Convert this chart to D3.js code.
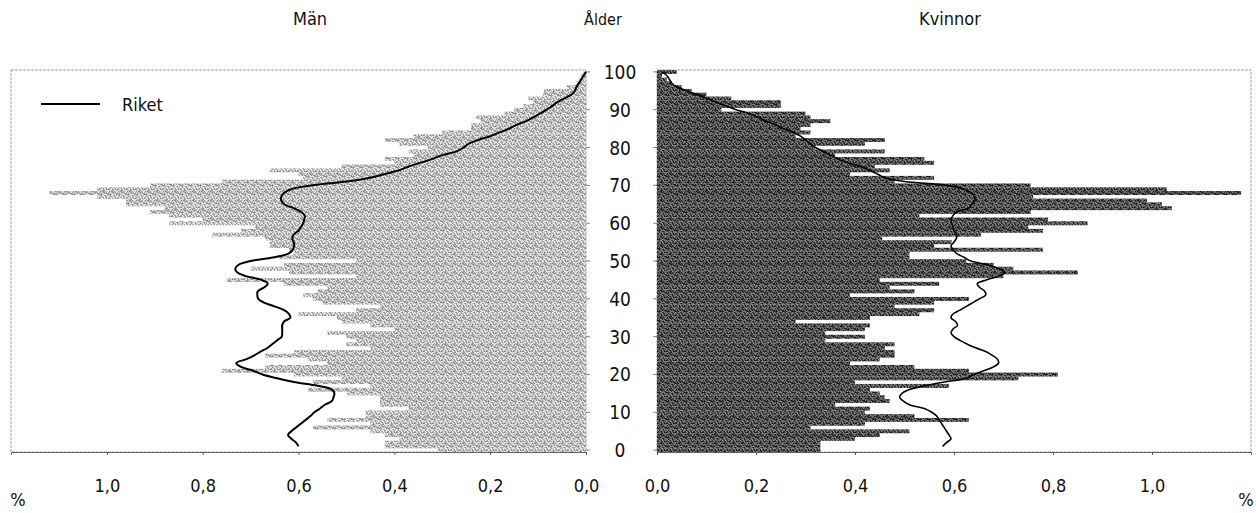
<!DOCTYPE html>
<html>
<head>
<meta charset="utf-8">
<script src="https://cdnjs.cloudflare.com/ajax/libs/d3/7.8.5/d3.min.js"></script>
<style>
  body { margin: 0; background: #fff; }
  svg text { font-family: "DejaVu Sans Condensed", "DejaVu Sans", sans-serif; font-stretch: condensed; fill: #111; }
</style>
</head>
<body>
<div id="chart"></div>
<script>
// Population pyramid: Män / Kvinnor, share in % per age, with national curve (Riket)

// ages 0..100 (one bar per age)
var ages = d3.range(0, 101);
var ageTicks = [0, 10, 20, 30, 40, 50, 60, 70, 80, 90, 100];
var valueTicks = [0, 0.2, 0.4, 0.6, 0.8, 1.0];

// Män, age 0 -> 100
var men = [
  0.31, 0.42, 0.42, 0.39, 0.42, 0.45, 0.57, 0.45, 0.54, 0.46,
  0.46, 0.37, 0.43, 0.43, 0.43, 0.50, 0.58, 0.45, 0.57, 0.51,
  0.61, 0.76, 0.67, 0.54, 0.58, 0.67, 0.61, 0.45, 0.50, 0.48,
  0.50, 0.54, 0.40, 0.45, 0.51, 0.52, 0.60, 0.48, 0.43, 0.55,
  0.57, 0.59, 0.56, 0.54, 0.63, 0.75, 0.48, 0.62, 0.70, 0.63,
  0.48, 0.64, 0.61, 0.62, 0.66, 0.66, 0.67, 0.78, 0.72, 0.69,
  0.87, 0.80, 0.87, 0.91, 0.88, 0.96, 0.96, 1.02, 1.12, 1.02,
  0.91, 0.76, 0.59, 0.60, 0.66, 0.51, 0.40, 0.42, 0.36, 0.37,
  0.33, 0.39, 0.42, 0.36, 0.30, 0.24, 0.24, 0.22, 0.23, 0.17,
  0.15, 0.13, 0.11, 0.12, 0.09, 0.087, 0.04, 0.02, 0.015, 0.01,
  0.005
];

// Kvinnor, age 0 -> 100
var women = [
  0.33, 0.33, 0.33, 0.40, 0.45, 0.51, 0.31, 0.42, 0.63, 0.52,
  0.42, 0.43, 0.36, 0.47, 0.46, 0.45, 0.43, 0.59, 0.40, 0.73,
  0.81, 0.63, 0.52, 0.39, 0.45, 0.48, 0.48, 0.46, 0.48, 0.34,
  0.42, 0.34, 0.42, 0.43, 0.28, 0.43, 0.53, 0.56, 0.48, 0.56,
  0.63, 0.39, 0.52, 0.47, 0.57, 0.45, 0.70, 0.85, 0.72, 0.68,
  0.625, 0.51, 0.51, 0.78, 0.56, 0.595, 0.455, 0.655, 0.78, 0.75,
  0.87, 0.79, 0.53, 0.755, 1.04, 1.02, 0.99, 0.76, 1.18, 1.03,
  0.755, 0.48, 0.56, 0.39, 0.47, 0.44, 0.56, 0.54, 0.36, 0.46,
  0.32, 0.42, 0.46, 0.28, 0.31, 0.29, 0.31, 0.35, 0.31, 0.30,
  0.13, 0.25, 0.25, 0.15, 0.10, 0.07, 0.05, 0.03, 0.02, 0.01,
  0.04
];

// Riket, age 0 -> 100 (null = no point)
var riketMen = [
  null, 0.600, 0.605, 0.615, 0.622, 0.615, 0.605, 0.595, 0.585, 0.575,
  0.567, 0.555, 0.545, 0.530, 0.527, 0.525, 0.530, 0.560, 0.610, 0.645,
  0.675, 0.695, 0.720, 0.730, 0.710, 0.693, 0.680, 0.665, 0.655, 0.645,
  0.635, 0.634, 0.634, 0.634, 0.630, 0.617, 0.620, 0.630, 0.650, 0.672,
  0.684, 0.686, 0.685, 0.672, 0.664, 0.677, 0.710, 0.728, 0.732, 0.725,
  0.700, 0.650, 0.620, 0.612, 0.609, 0.610, 0.613, 0.610, 0.600, 0.595,
  0.590, 0.588, 0.587, 0.595, 0.610, 0.630, 0.636, 0.636, 0.630, 0.615,
  0.570, 0.500, 0.450, 0.420, 0.390, 0.370, 0.345, 0.320, 0.300, 0.270,
  0.255, 0.245, 0.225, 0.200, 0.180, 0.160, 0.145, 0.125, 0.110, 0.095,
  0.082, 0.070, 0.060, 0.045, 0.030, 0.023, 0.020, 0.015, 0.010, 0.005,
  0.000
];

var riketWomen = [
  null, 0.577, 0.585, 0.594, 0.590, 0.585, 0.580, 0.575, 0.570, 0.565,
  0.555, 0.540, 0.510, 0.497, 0.490, 0.495, 0.510, 0.540, 0.580, 0.625,
  0.640, 0.660, 0.680, 0.690, 0.688, 0.678, 0.665, 0.645, 0.627, 0.612,
  0.600, 0.594, 0.598, 0.607, 0.603, 0.594, 0.598, 0.612, 0.625, 0.638,
  0.651, 0.664, 0.662, 0.652, 0.647, 0.665, 0.690, 0.703, 0.690, 0.668,
  0.634, 0.620, 0.605, 0.598, 0.594, 0.600, 0.605, 0.605, 0.600, 0.598,
  0.595, 0.594, 0.598, 0.605, 0.630, 0.636, 0.642, 0.642, 0.635, 0.620,
  0.585, 0.500, 0.460, 0.445, 0.430, 0.410, 0.385, 0.365, 0.350, 0.335,
  0.320, 0.310, 0.300, 0.290, 0.275, 0.255, 0.240, 0.220, 0.205, 0.185,
  0.160, 0.140, 0.120, 0.100, 0.080, 0.060, 0.040, 0.030, 0.025, 0.020,
  0.010
];

var width = 1256, height = 513;

var svg = d3.select('#chart').append('svg')
  .attr('width', width)
  .attr('height', height);

// grainy textures like the scanned print (fixed hash, not data)
var defs = svg.append('defs');
function grain(id, lo, span) {
  var n = 9;
  var p = defs.append('pattern')
    .attr('id', id)
    .attr('patternUnits', 'userSpaceOnUse')
    .attr('width', n).attr('height', n);
  for (var i = 0; i < n; i++) {
    for (var j = 0; j < n; j++) {
      var h = ((i * 73 + j * 151 + i * j * 17 + (i ^ j) * 29) % 31) / 30;
      var g = Math.round(lo + h * span);
      p.append('rect')
        .attr('x', i).attr('y', j).attr('width', 1).attr('height', 1)
        .attr('fill', d3.rgb(g, g, g));
    }
  }
}
grain('menFill', 130, 125);
grain('womenFill', 15, 130);

var y = d3.scaleBand().domain(ages).range([452, 70]).paddingInner(0);
var xL = d3.scaleLinear().domain([0, 1.2]).range([586, 11]);
var xR = d3.scaleLinear().domain([0, 1.2]).range([657, 1251]);

var fmt = function(d) { return d3.format('.1f')(d).replace('.', ','); };

// frames
[xL, xR].forEach(function(x) {
  var x0 = Math.min(x(0), x(1.2)), x1 = Math.max(x(0), x(1.2));
  svg.append('rect')
    .attr('x', x0).attr('y', 70)
    .attr('width', x1 - x0).attr('height', 382)
    .attr('fill', 'none')
    .attr('stroke', '#8a8a8a')
    .attr('stroke-width', 0.8)
    .attr('stroke-dasharray', '3,1');
});

// bars
svg.append('g').selectAll('rect')
  .data(ages)
  .enter().append('rect')
  .attr('x', function(a) { return xL(men[a]); })
  .attr('y', function(a) { return y(a); })
  .attr('width', function(a) { return xL(0) - xL(men[a]); })
  .attr('height', y.bandwidth() + 0.2)
  .attr('fill', 'url(#menFill)');

svg.append('g').selectAll('rect')
  .data(ages)
  .enter().append('rect')
  .attr('x', xR(0))
  .attr('y', function(a) { return y(a); })
  .attr('width', function(a) { return xR(women[a]) - xR(0); })
  .attr('height', y.bandwidth() + 0.2)
  .attr('fill', 'url(#womenFill)');

// Riket lines
function riketLine(x, vals) {
  return d3.line()
    .defined(function(a) { return vals[a] !== null; })
    .x(function(a) { return x(vals[a]); })
    .y(function(a) { return y(a) + y.bandwidth() / 2; })
    .curve(d3.curveCatmullRom);
}
svg.append('path')
  .datum(ages)
  .attr('fill', 'none')
  .attr('stroke', '#000')
  .attr('stroke-width', 2)
  .attr('d', riketLine(xL, riketMen));
svg.append('path')
  .datum(ages)
  .attr('fill', 'none')
  .attr('stroke', '#000')
  .attr('stroke-width', 1.6)
  .attr('d', riketLine(xR, riketWomen));

// x axes
[xL, xR].forEach(function(x) {
  var g = svg.append('g')
    .attr('transform', 'translate(0,452)')
    .call(d3.axisBottom(x).tickValues(valueTicks).tickFormat(fmt).tickSize(3).tickPadding(24));
  g.select('.domain').attr('stroke', '#444').attr('stroke-width', 0.8);
  g.selectAll('.tick line').attr('stroke', '#555');
  g.selectAll('text').style('font-size', '18px').attr('fill', '#111');
});

// age axis in the middle
var ageG = svg.append('g');
ageTicks.forEach(function(a) {
  var cy = y(a) + y.bandwidth() / 2;
  ageG.append('line').attr('x1', xL(0)).attr('x2', xL(0) + 4)
    .attr('y1', cy).attr('y2', cy).attr('stroke', '#666').attr('stroke-width', 0.8);
  ageG.append('line').attr('x1', xR(0) - 4).attr('x2', xR(0))
    .attr('y1', cy).attr('y2', cy).attr('stroke', '#666').attr('stroke-width', 0.8);
  ageG.append('text')
    .attr('x', 620).attr('y', cy)
    .attr('text-anchor', 'middle')
    .attr('dominant-baseline', 'central')
    .style('font-size', '19px')
    .text(a);
});

// titles
svg.append('text').attr('x', 310).attr('y', 25).attr('text-anchor', 'middle').style('font-size', '18px').text('Män');
svg.append('text').attr('x', 603).attr('y', 25).attr('text-anchor', 'middle').style('font-size', '16px').text('Ålder');
svg.append('text').attr('x', 950).attr('y', 25).attr('text-anchor', 'middle').style('font-size', '18px').text('Kvinnor');

// % labels
svg.append('text').attr('x', 18).attr('y', 506).attr('text-anchor', 'middle').style('font-size', '18px').text('%');
svg.append('text').attr('x', 1246).attr('y', 506).attr('text-anchor', 'middle').style('font-size', '18px').text('%');

// legend
svg.append('line').attr('x1', 41).attr('x2', 100).attr('y1', 104).attr('y2', 104)
  .attr('stroke', '#000').attr('stroke-width', 2);
svg.append('text').attr('x', 122).attr('y', 104).attr('dominant-baseline', 'central')
  .style('font-size', '18px').text('Riket');
</script>
</body>
</html>
